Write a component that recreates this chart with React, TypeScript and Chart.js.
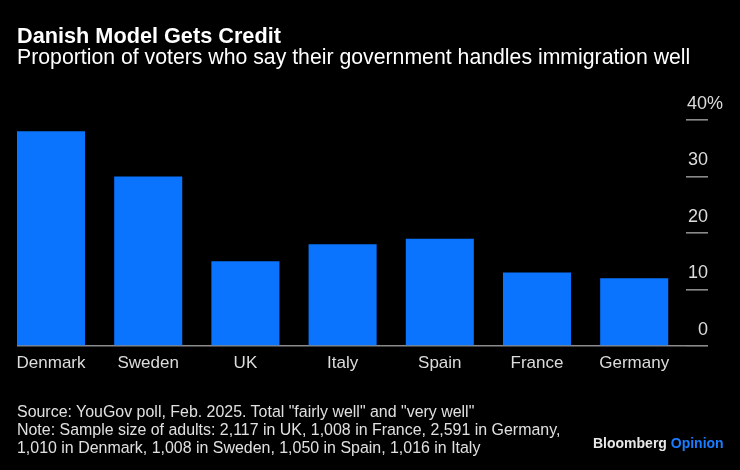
import React, { useEffect, useRef } from "react";
import { Chart, registerables } from "chart.js";

Chart.register(...registerables);

const categories = ["Denmark", "Sweden", "UK", "Italy", "Spain", "France", "Germany"];
const shareWell = [38, 30, 15, 18, 19, 13, 12];
const yTicks = [0, 10, 20, 30, 40];
const yTickLabels = ["0\u00a0\u00a0\u00a0", "10\u00a0\u00a0\u00a0", "20\u00a0\u00a0\u00a0", "30\u00a0\u00a0\u00a0", "40%"];

const FONT = "'Liberation Sans', Arial, Helvetica, sans-serif";
const BAR_BLUE = "#0a74ff";
const AXIS_GRAY = "#8a8a8a";

export default function App() {
  const canvasRef = useRef<HTMLCanvasElement | null>(null);

  useEffect(() => {
    const canvas = canvasRef.current;
    if (!canvas) return;
    const chart = new Chart(canvas, {
      type: "bar",
      data: {
        datasets: [
          {
            data: shareWell.map((v, i) => ({ x: i, y: v })),
            backgroundColor: BAR_BLUE,
            borderWidth: 0,
            categoryPercentage: 1,
            barPercentage: 0.7,
          },
        ],
      },
      options: {
        animation: false,
        responsive: false,
        maintainAspectRatio: false,
        devicePixelRatio: 1,
        layout: { padding: { left: 17, right: 17, top: 120, bottom: 94 } },
        plugins: { legend: { display: false }, tooltip: { enabled: false }, title: { display: false } },
        scales: {
          x: {
            type: "linear",
            offset: false,
            min: -0.35,
            max: 6.533,
            grid: { display: false, drawTicks: false, offset: false },
            border: { display: false },
            afterBuildTicks: (scale: any) => {
              scale.ticks = categories.map((_, i) => ({ value: i }));
            },
            afterFit: (scale: any) => {
              scale.height = 30;
            },
            ticks: {
              autoSkip: false,
              maxRotation: 0,
              padding: 7,
              color: "#dcdcdc",
              font: { family: FONT, size: 17 },
              callback: (v: any) => categories[Math.round(Number(v))] ?? "",
            },
          },
          y: {
            position: "right",
            min: 0,
            max: 40,
            afterBuildTicks: (scale: any) => {
              scale.ticks = yTicks.map((v) => ({ value: v }));
            },
            afterFit: (scale: any) => {
              scale.width = 37;
            },
            grid: {
              drawOnChartArea: true,
              drawTicks: true,
              tickLength: 22,
              color: (ctx: any) => (ctx.tick && ctx.tick.value === 0 ? AXIS_GRAY : "rgba(0,0,0,0)"),
              lineWidth: 1.6,
              tickColor: AXIS_GRAY,
              tickWidth: 1.6,
            },
            border: { display: false },
            ticks: {
              crossAlign: "far",
              padding: 0,
              labelOffset: -16,
              color: "#dcdcdc",
              font: { family: FONT, size: 18 },
              callback: (v: any) => {
                const idx = yTicks.indexOf(Number(v));
                return idx >= 0 ? yTickLabels[idx] : "";
              },
            },
          },
        },
      },
    });
    return () => chart.destroy();
  }, []);

  const base: React.CSSProperties = {
    position: "absolute",
    fontFamily: FONT,
    whiteSpace: "nowrap",
    margin: 0,
  };

  return (
    <div style={{ position: "absolute", left: 0, top: 0, width: 740, height: 470, background: "#000", overflow: "hidden" }}>
      <canvas ref={canvasRef} width={740} height={470} style={{ position: "absolute", left: 0, top: 0, width: 740, height: 470 }} />
      <div style={{ ...base, left: 17, top: 25, fontSize: 21.7, lineHeight: "21.7px", fontWeight: 700, color: "#fff" }}>
        Danish Model Gets Credit
      </div>
      <div style={{ ...base, left: 17, top: 47, fontSize: 21.25, lineHeight: "21.25px", color: "#fff" }}>
        Proportion of voters who say their government handles immigration well
      </div>
      <div style={{ ...base, left: 17, top: 403, fontSize: 15.95, lineHeight: "17.8px", color: "#e0e0e0" }}>
        <div>Source: YouGov poll, Feb. 2025. Total "fairly well" and "very well"</div>
        <div>Note: Sample size of adults: 2,117 in UK, 1,008 in France, 2,591 in Germany,</div>
        <div>1,010 in Denmark, 1,008 in Sweden, 1,050 in Spain, 1,016 in Italy</div>
      </div>
      <div style={{ ...base, left: 593, top: 436, fontSize: 14, lineHeight: "14px", fontWeight: 700 }}>
        <span style={{ color: "#e8e8e8" }}>Bloomberg</span> <span style={{ color: "#1a7cff" }}>Opinion</span>
      </div>
    </div>
  );
}
